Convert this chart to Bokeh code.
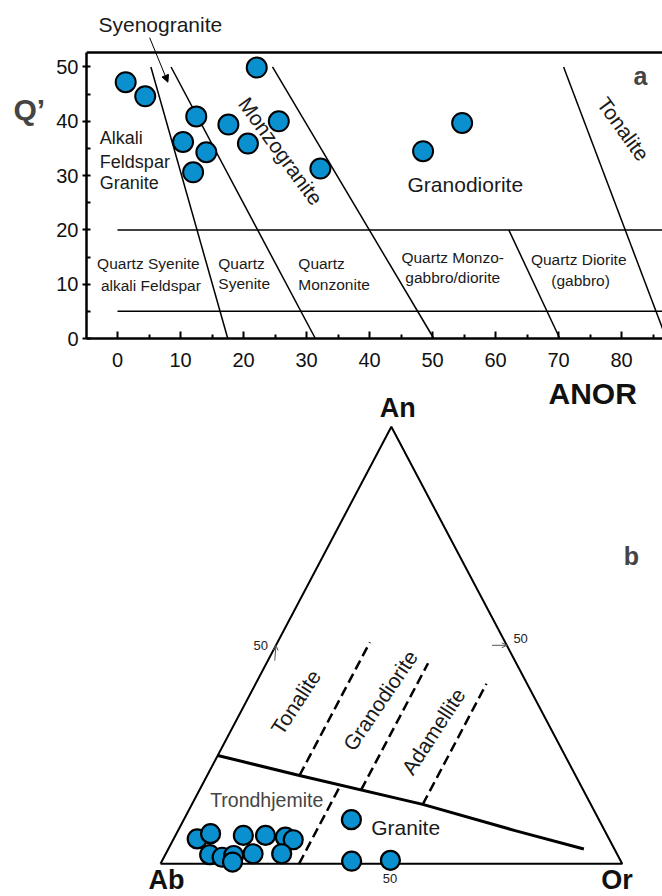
import numpy as np
from bokeh.plotting import figure
from bokeh.layouts import column
from bokeh.models import (Range1d, FixedTicker, Span,
                          ColumnDataSource, Label, Arrow, NormalHead, OpenHead)
from bokeh.embed import file_html
from bokeh.resources import INLINE
from bokeh.core.properties import value

FONT = "Liberation Sans"
BLUE = "#0a8fcf"

# ---------------- (a) Q' - ANOR diagram ----------------
anor = [1.3, 4.4, 12.5, 10.4, 14.1, 12.0, 17.6, 20.7, 22.1, 25.6, 32.2, 48.5, 54.7]
qprime = [47.2, 44.6, 40.9, 36.2, 34.3, 30.6, 39.4, 35.9, 49.9, 40.0, 31.3, 34.5, 39.7]

# field boundaries: (ANOR, Q') start -> end
bnd_anor0 = [5.3, 8.5, 24.6, 62.1, 70.8, 0, 0]
bnd_q0 = [50, 50, 50, 20, 50, 20, 5]
bnd_anor1 = [17.5, 31.4, 50.2, 70.2, 87.1, 95, 95]
bnd_q1 = [0, 0, 0, 0, 0, 20, 5]

x_ticks_a = [0, 10, 20, 30, 40, 50, 60, 70, 80]
y_ticks_a = [0, 10, 20, 30, 40, 50]
Q_TOP = 52.67  # upper limit of the diagram box

pa = figure(width=662, height=378, x_range=Range1d(-4.92, 86.5), y_range=Range1d(0, 60.77),
            output_backend="svg", toolbar_location=None, title=None,
            min_border_left=86, min_border_right=0, min_border_top=8, min_border_bottom=40,
            outline_line_color=None, background_fill_color="white", border_fill_color="white")
pa.grid.visible = False

pa.xaxis.ticker = FixedTicker(ticks=x_ticks_a, minor_ticks=[t + 5 for t in x_ticks_a])
pa.yaxis.ticker = FixedTicker(ticks=y_ticks_a, minor_ticks=[t + 5 for t in y_ticks_a if t + 5 < Q_TOP])
for ax in (pa.xaxis[0], pa.yaxis[0]):
    ax.axis_line_width = 2.5
    ax.major_tick_line_width = 2
    ax.minor_tick_line_width = 2
    ax.major_label_text_font = FONT
    ax.major_label_text_font_size = "20px"
    ax.major_label_text_color = "#111111"

pa.yaxis.bounds = (0, Q_TOP)
pa.xaxis.major_tick_in = 7
pa.xaxis.major_tick_out = 0
pa.xaxis.minor_tick_in = 4
pa.xaxis.minor_tick_out = 0
pa.xaxis.major_label_standoff = 14
pa.yaxis.major_tick_in = 4
pa.yaxis.major_tick_out = 4
pa.yaxis.minor_tick_in = 4
pa.yaxis.minor_tick_out = 0
pa.yaxis.major_label_standoff = 4

# top edge of the diagram box
pa.add_layout(Span(location=Q_TOP, dimension="width", line_color="black", line_width=2.5))

pa.segment(x0=bnd_anor0, y0=bnd_q0, x1=bnd_anor1, y1=bnd_q1, line_color="black", line_width=1.5)

pa.scatter(anor, qprime, marker="circle", size=20, fill_color=BLUE, line_color="black", line_width=2)

# big field labels
big = ColumnDataSource(dict(
    x=[25.9, 55.2, 80.3], y=[34.5, 28.3, 38.6],
    text=["Monzogranite", "Granodiorite", "Tonalite"],
    angle=[-54, 0, -54]))
pa.text(x="x", y="y", text="text", angle="angle", angle_units="deg", source=big,
        text_font=value(FONT), text_font_size="21px", text_align="center",
        text_baseline="middle", text_color="#1a1a1a")

afg = ColumnDataSource(dict(x=[-2.8, -2.8, -2.8], y=[36.9, 32.5, 28.6],
                            text=["Alkali", "Feldspar", "Granite"]))
pa.text(x="x", y="y", text="text", source=afg, text_font=value(FONT), text_font_size="18px",
        text_align="left", text_baseline="middle", text_color="#1a1a1a")

qc = ColumnDataSource(dict(
    x=[4.9, 5.3, 53.2, 53.2, 73.2, 73.5],
    y=[13.9, 9.7, 15.0, 11.3, 14.5, 10.6],
    text=["Quartz Syenite", "alkali Feldspar", "Quartz Monzo-", "gabbro/diorite",
          "Quartz Diorite", "(gabbro)"]))
pa.text(x="x", y="y", text="text", source=qc, text_font=value(FONT), text_font_size="15.5px",
        text_align="center", text_baseline="middle", text_color="#1a1a1a")

ql = ColumnDataSource(dict(
    x=[16.0, 16.0, 28.7, 28.7], y=[13.9, 10.2, 13.9, 10.0],
    text=["Quartz", "Syenite", "Quartz", "Monzonite"]))
pa.text(x="x", y="y", text="text", source=ql, text_font=value(FONT), text_font_size="15.5px",
        text_align="left", text_baseline="middle", text_color="#1a1a1a")

pa.add_layout(Label(x=83.0, y=48.3, text="a", text_font=FONT, text_font_size="25px",
                    text_font_style="bold", text_align="center", text_baseline="middle"))
pa.add_layout(Label(x=6.8, y=57.8, text="Syenogranite", text_font=FONT, text_font_size="21px",
                    text_align="center", text_baseline="middle", text_color="#1a1a1a"))
pa.add_layout(Arrow(end=NormalHead(size=7, fill_color="black", line_color="black"),
                    x_start=5.1, y_start=55.4, x_end=8.0, y_end=47.2,
                    line_color="black", line_width=1))
# axis title left of the y axis: placed in the left panel so that it is not clipped
pa.add_layout(Label(x=-14.0, y=42.2, text="Q’", text_font=FONT, text_font_size="30px",
                    text_font_style="bold", text_align="center", text_baseline="middle"), "left")

# ---------------- (b) An - Ab - Or ternary ----------------
b_an = [5.7, 6.9, 6.5, 6.5, 6.1, 5.5, 2.1, 1.5, 1.9, 0.4, 2.3, 2.3, 10.1, 0.6, 0.8]
b_or = [5.1, 7.4, 14.7, 19.5, 24.0, 26.0, 9.6, 12.6, 14.9, 15.4, 18.9, 25.1, 36.3, 41.1, 49.4]

corner_an = [0, 0, 100, 0]
corner_or = [0, 100, 0, 0]

# solid boundary (An, Or)
div_an = [24.8, 20.2, 13.6, 7.6, 3.4]
div_or = [0, 20, 50, 73, 90]

# dashed boundaries at constant Or
dash_or = [20, 35, 50, 30]
dash_an_lo = [20.2, 16.9, 13.6, 0]
dash_an_hi = [50.7, 45.9, 41.2, 17.5]


def tern(an, orr):
    an = np.asarray(an, dtype=float)
    orr = np.asarray(orr, dtype=float)
    return orr + an / 2.0, an


pb = figure(width=662, height=518, x_range=Range1d(-16.03, 108.73), y_range=Range1d(-7.48, 111.05),
            output_backend="svg", toolbar_location=None, title=None,
            min_border_left=86, min_border_right=0, min_border_top=0, min_border_bottom=0,
            x_axis_type=None, y_axis_type=None, outline_line_color=None,
            background_fill_color="white", border_fill_color="white")
pb.grid.visible = False

tx, ty = tern(corner_an, corner_or)
pb.line(tx, ty, line_color="black", line_width=2)

dx, dy = tern(div_an, div_or)
pb.line(dx, dy, line_color="black", line_width=3)

x0, y0 = tern(dash_an_lo, dash_or)
x1, y1 = tern(dash_an_hi, dash_or)
pb.segment(x0=x0, y0=y0, x1=x1, y1=y1, line_color="black", line_width=2.5, line_dash="10 5")

# 50% tick marks
for (sa, so), (ea, eo) in (((46.5, 1.5), (50, 0)), ((50, 46.8), (50, 50))):
    xs, ys = tern([sa], [so])
    xe, ye = tern([ea], [eo])
    pb.add_layout(Arrow(end=OpenHead(size=5, line_color="#555555", line_width=1),
                        x_start=float(xs[0]), y_start=float(ys[0]),
                        x_end=float(xe[0]), y_end=float(ye[0]),
                        line_color="#555555", line_width=1))

px_, py_ = tern(b_an, b_or)
pb.scatter(px_, py_, marker="circle", size=19, fill_color=BLUE, line_color="black", line_width=2.2)

rot = ColumnDataSource(dict(x=[29.3, 47.6, 59.1], y=[37.0, 37.4, 30.3],
                            text=["Tonalite", "Granodiorite", "Adamellite"],
                            angle=[57, 56, 57]))
pb.text(x="x", y="y", text="text", angle="angle", angle_units="deg", source=rot,
        text_font=value(FONT), text_font_size="21px", text_align="center",
        text_baseline="middle", text_color="#1a1a1a")

pb.text(x=[23.0], y=[14.5], text=["Trondhjemite"], text_font=value(FONT), text_font_size="19.5px",
        text_align="center", text_baseline="middle", text_color="#444444")
pb.text(x=[53.1], y=[8.3], text=["Granite"], text_font=value(FONT), text_font_size="21px",
        text_align="center", text_baseline="middle", text_color="#1a1a1a")

for x, y, t in ((51.4, 104.2, "An"), (1.3, -3.6, "Ab"), (98.9, -3.7, "Or")):
    pb.add_layout(Label(x=x, y=y, text=t, text_font=FONT, text_font_size="27px",
                        text_font_style="bold", text_align="center", text_baseline="middle",
                        text_color="#111111"))
pb.add_layout(Label(x=102.0, y=70.5, text="b", text_font=FONT, text_font_size="25px",
                    text_font_style="bold", text_align="center", text_baseline="middle"))
pb.add_layout(Label(x=93.6, y=107.6, text="ANOR", text_font=FONT, text_font_size="30px",
                    text_font_style="bold", text_align="center", text_baseline="middle",
                    text_color="#111111"))
for x, y in ((21.7, 50.0), (78.0, 51.5), (49.7, -3.4)):
    pb.add_layout(Label(x=x, y=y, text="50", text_font=FONT, text_font_size="13px",
                        text_align="center", text_baseline="middle", text_color="#222222"))

layout = column(pa, pb, spacing=0)
open("out.html", "w").write(file_html(layout, INLINE))
